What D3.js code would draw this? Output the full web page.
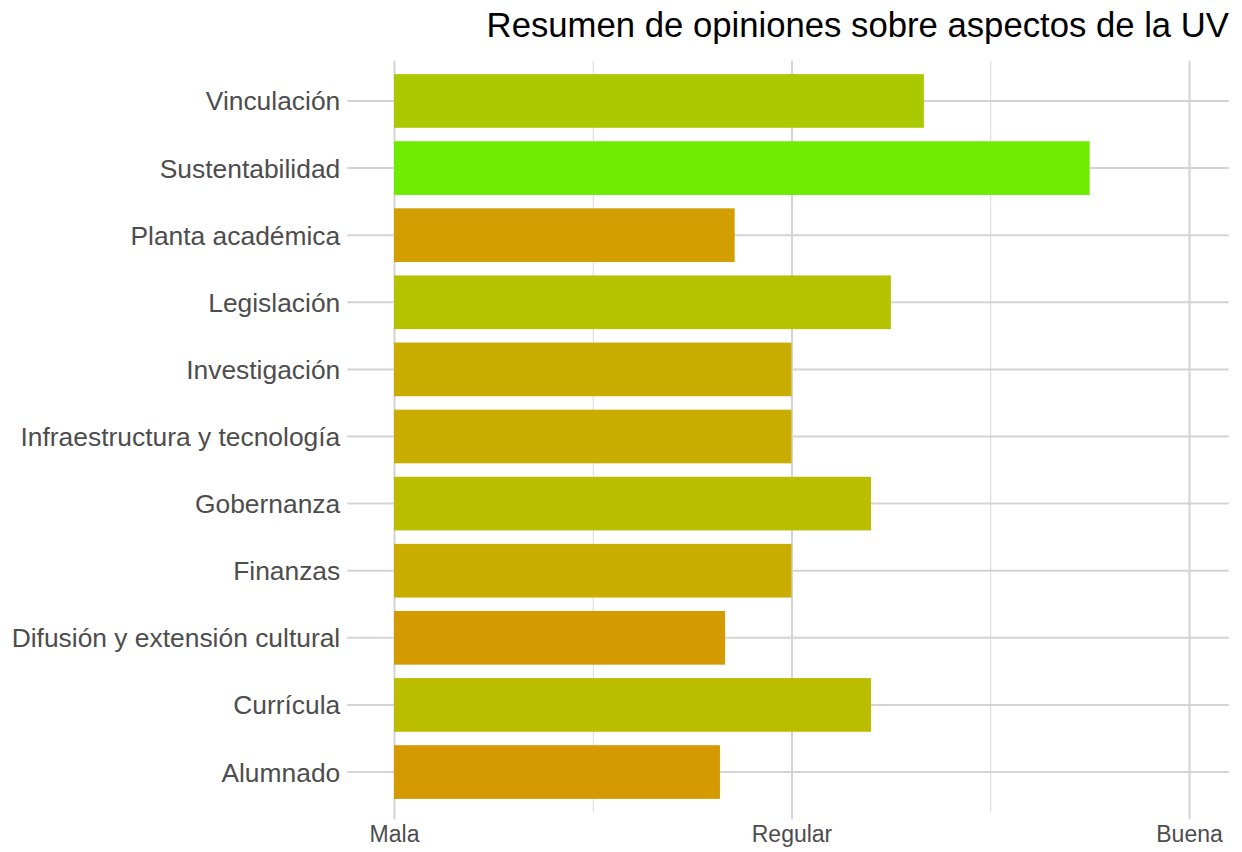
<!DOCTYPE html>
<html>
<head>
<meta charset="utf-8">
<script src="https://cdn.jsdelivr.net/npm/d3@7"></script>
<style>
    body { margin: 0; background: #ffffff; }
    svg { display: block; font-family: "Liberation Sans", Arial, sans-serif; }
    .grid .domain, .lbl .domain { display: none; }
    .grid line { stroke: #d4d4d4; stroke-width: 2; }
    .minor line { stroke: #d9d9d9; stroke-width: 1; }
    .lbl text { fill: #4d4d4d; }
</style>
</head>
<body>
<div id="chart"></div>
<script>
// aspectos, de arriba hacia abajo
var categories = ["Vinculación", "Sustentabilidad", "Planta académica", "Legislación",
    "Investigación", "Infraestructura y tecnología", "Gobernanza", "Finanzas",
    "Difusión y extensión cultural", "Currícula", "Alumnado"];
// opinión media (0 = Mala, 1 = Regular, 2 = Buena)
var values = [1.333, 1.75, 0.857, 1.25, 1.0, 1.0, 1.2, 1.0, 0.833, 1.2, 0.82];
var tickValues = [0, 1, 2];
var tickLabels = ["Mala", "Regular", "Buena"];
var minorTicks = [0.5, 1.5];
// colour stops
var colorStops = [0.82, 1.0, 1.2, 1.333, 1.75];
var colorRange = ["#d49a00", "#c9ad00", "#bbbe00", "#abc900", "#6eeb00"];

var chart = {
    w: 1242,
    h: 852,
    left: 354.25,
    right: 1228.75,
    top: 60.7,
    bottom: 812.3
};

chart.svg = d3.select("#chart")
    .append("svg")
    .attr("width", chart.w)
    .attr("height", chart.h);

chart.xScale = d3.scaleLinear()
    .domain([-0.1, 2.1])
    .range([chart.left, chart.right]);

chart.yScale = d3.scaleBand()
    .domain(categories)
    .range([chart.top, chart.bottom])
    .padding(0.2);

chart.color = d3.scaleLinear()
    .domain(colorStops)
    .range(colorRange)
    .interpolate(d3.interpolateLab);

// minor vertical grid
chart.svg.append("g")
    .attr("class", "grid minor")
    .attr("transform", "translate(0," + chart.top + ")")
    .call(d3.axisBottom(chart.xScale)
        .tickValues(minorTicks)
        .tickSize(chart.bottom - chart.top)
        .tickFormat(""));

// major vertical grid + ticks
chart.svg.append("g")
    .attr("class", "grid")
    .attr("transform", "translate(0," + chart.top + ")")
    .call(d3.axisBottom(chart.xScale)
        .tickValues(tickValues)
        .tickSize(chart.bottom - chart.top + 7)
        .tickFormat(""));

// horizontal grid + ticks
chart.svg.append("g")
    .attr("class", "grid")
    .attr("transform", "translate(" + chart.right + ",0)")
    .call(d3.axisLeft(chart.yScale)
        .tickSize(chart.right - chart.left + 7)
        .tickFormat(""));

chart.svg.selectAll("rect.bar")
    .data(values)
    .enter().append("rect")
    .attr("class", "bar")
    .attr("x", chart.xScale(0))
    .attr("y", function (d, i) { return chart.yScale(categories[i]); })
    .attr("width", function (d) { return chart.xScale(d) - chart.xScale(0); })
    .attr("height", chart.yScale.bandwidth())
    .attr("fill", function (d) { return chart.color(d); });

// y labels
chart.svg.append("g")
    .attr("class", "lbl")
    .attr("transform", "translate(" + chart.left + ",0)")
    .call(d3.axisLeft(chart.yScale).tickSize(0).tickPadding(14))
    .selectAll("text")
    .attr("dy", "0.36em")
    .style("font-size", "26.4px");

// x labels
chart.svg.append("g")
    .attr("class", "lbl")
    .attr("transform", "translate(0," + chart.bottom + ")")
    .call(d3.axisBottom(chart.xScale)
        .tickValues(tickValues)
        .tickSize(0)
        .tickPadding(13.5)
        .tickFormat(function (d, i) { return tickLabels[i]; }))
    .selectAll("text")
    .style("font-size", "23px");

chart.svg.selectAll(".lbl line").remove();

chart.svg.append("text")
    .attr("x", 1229)
    .attr("y", 37)
    .attr("text-anchor", "end")
    .style("font-size", "34.7px")
    .style("fill", "#000000")
    .text("Resumen de opiniones sobre aspectos de la UV");
</script>
</body>
</html>
